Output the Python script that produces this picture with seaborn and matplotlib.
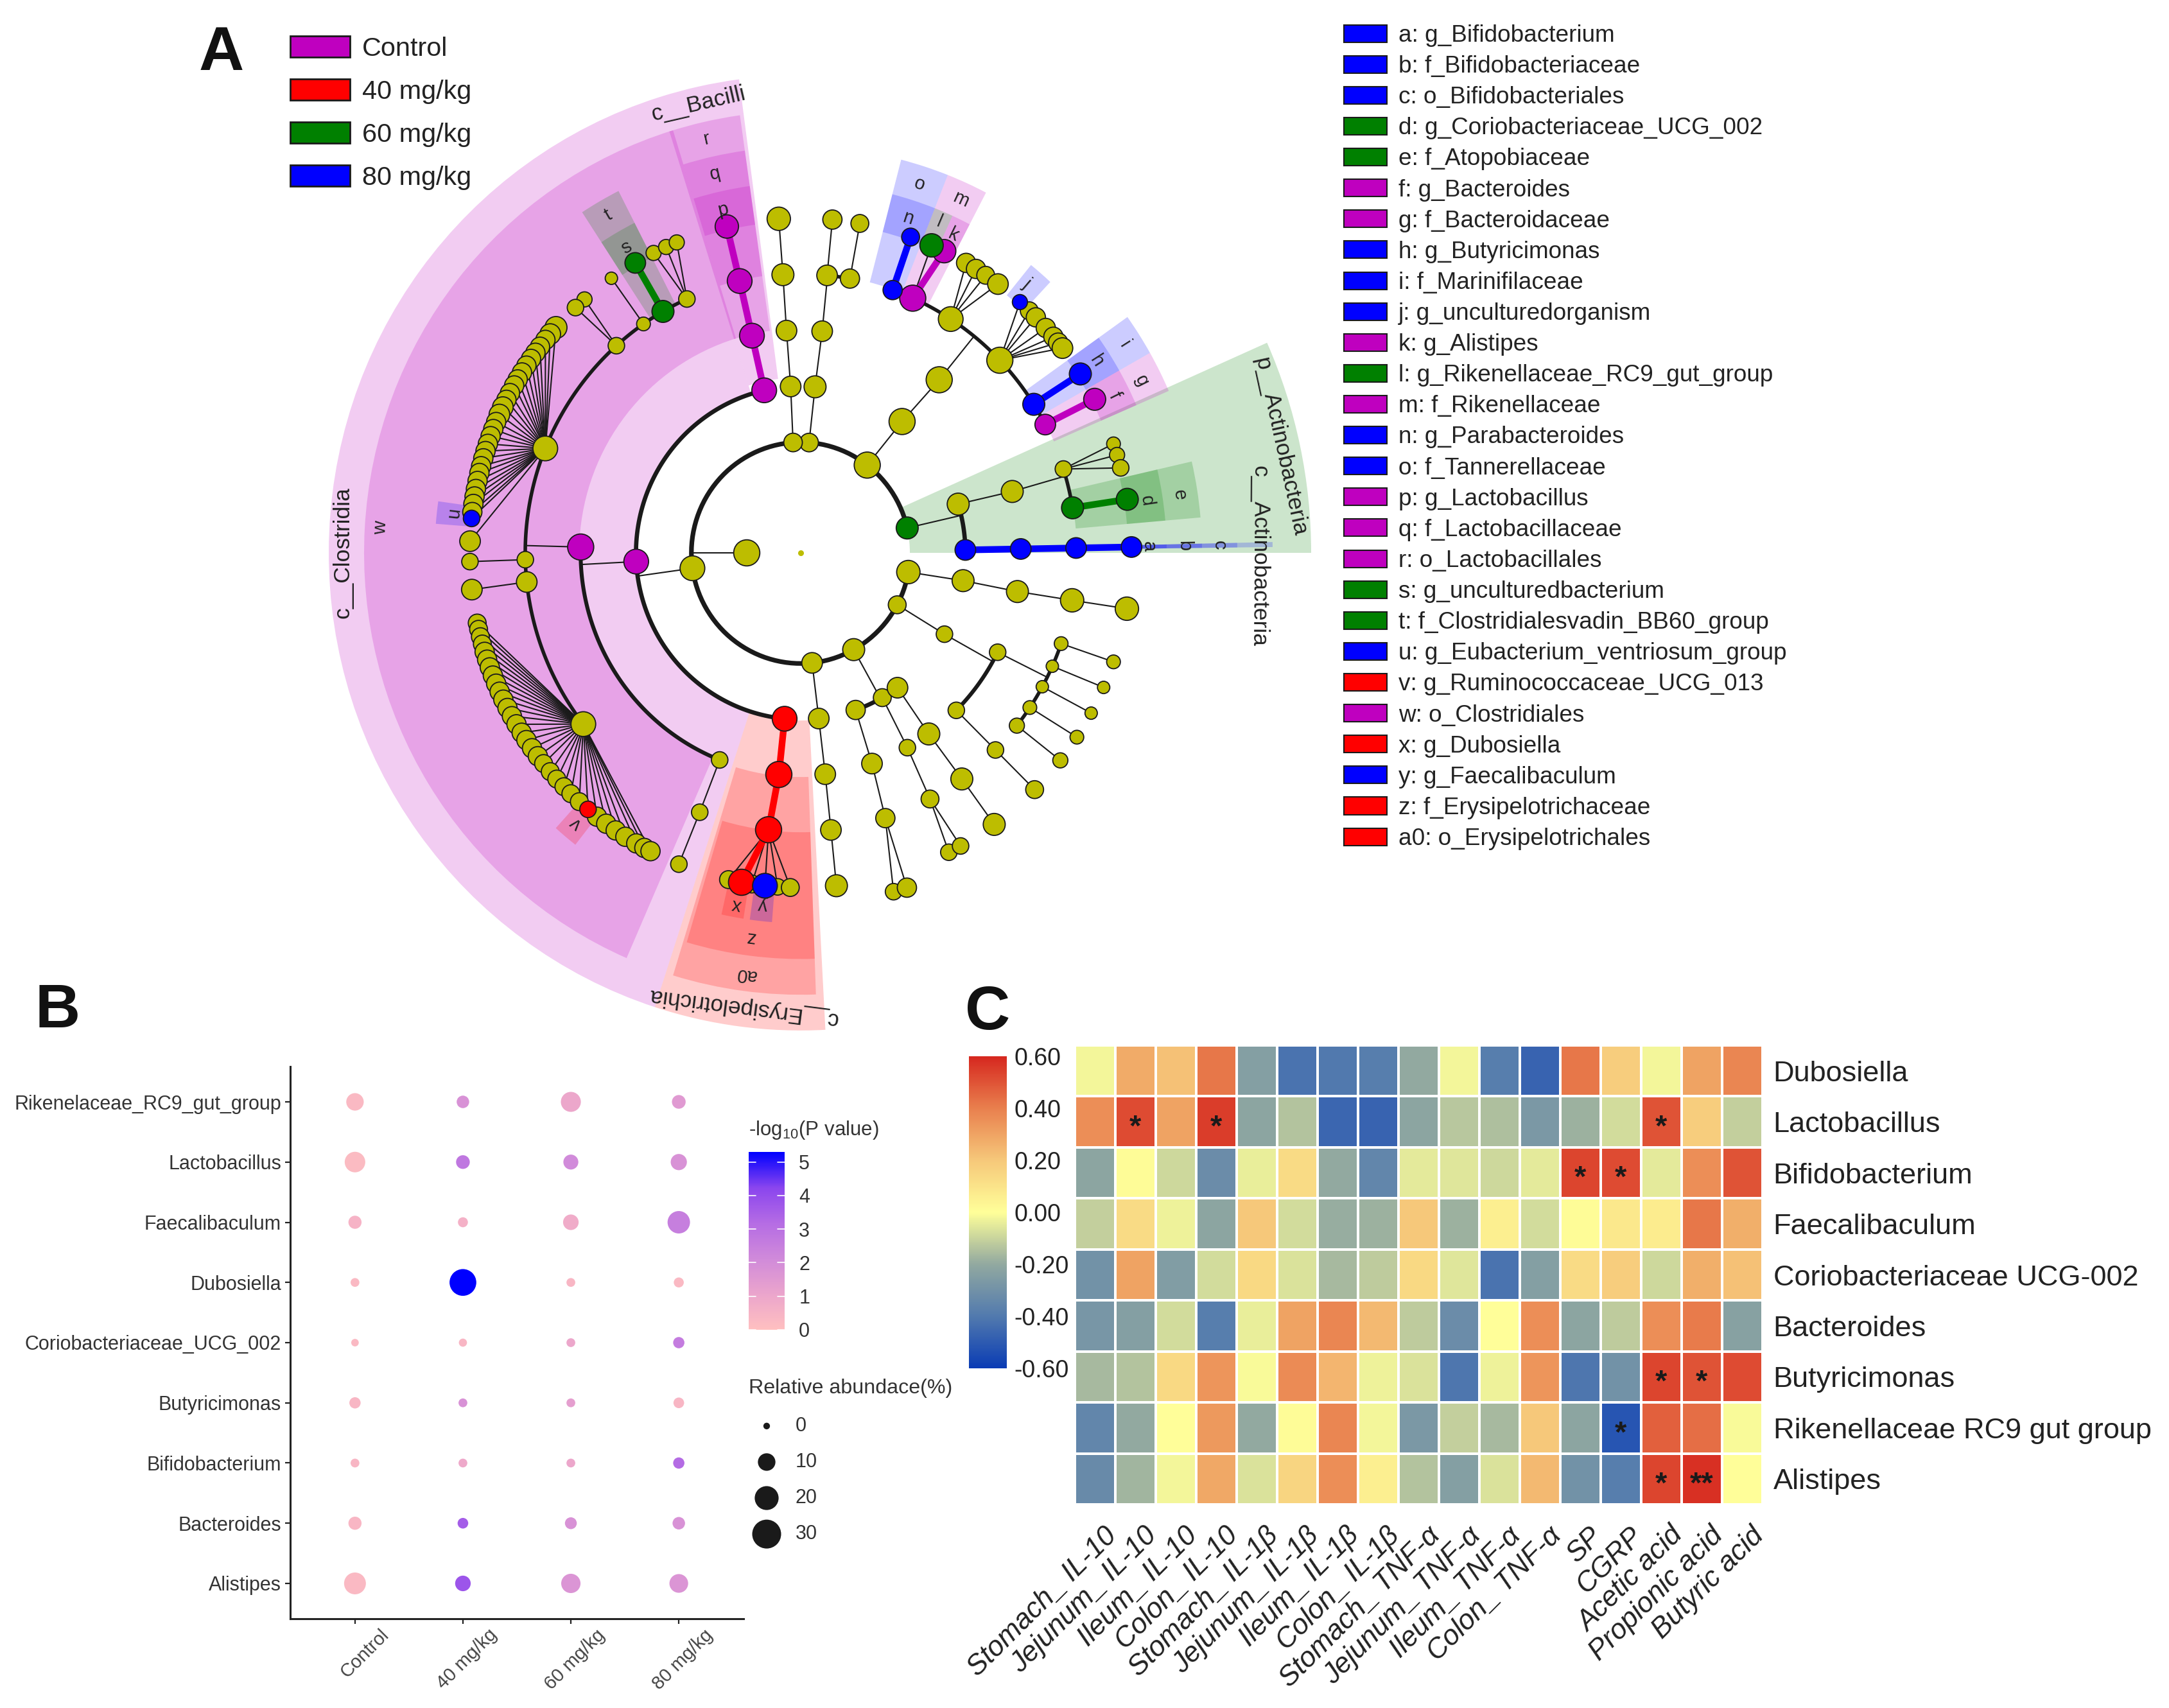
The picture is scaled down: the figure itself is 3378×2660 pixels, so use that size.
import numpy as np, pandas as pd
import matplotlib
matplotlib.use("Agg")
import matplotlib.pyplot as plt
import seaborn as sns
from matplotlib.patches import Patch
from matplotlib.cm import ScalarMappable
from matplotlib.colors import LinearSegmentedColormap, Normalize
from matplotlib.transforms import ScaledTranslation

sns.set_theme(style="white")
plt.rcParams['font.family'] = ['Liberation Sans', 'DejaVu Sans']
plt.rcParams['mathtext.fontset'] = 'custom'
plt.rcParams['mathtext.rm'] = 'Liberation Sans'
W, H = 3378, 2660
fig = plt.figure(figsize=(W/100, H/100), dpi=100, facecolor='white')

def rect(x0, y0, x1, y1):
    return [x0/W, 1-y1/H, (x1-x0)/W, (y1-y0)/H]

PAL = {'n': '#BDBD00', 'm': '#BF00BF', 'r': '#FF0000', 'g': '#008000', 'b': '#0000FF'}

# ---------------- Panel A data: (id, parent, level, angle, diameter, group)
root_nodes = [('K', None, 0, 180, 38, 'n')]
ring_nodes = [('A','K',1,13,32,'g'),('B','K',1,52.5,38,'n'),('C','K',1,85.6,27,'n'),('D','K',1,94,27,'n'),
              ('E','K',1,188,36,'n'),('F','K',1,276,30,'n'),('G','K',1,299,32,'n'),('H','K',1,332,26,'n'),('I','K',1,350,34,'n')]
actino_nodes = [('A1','A',2,17,32,'n'),('A2','A',2,1,30,'b'),('A3','A1',3,16,32,'n'),('A4','A3',4,17.5,24,'n'),
                ('A5','A3',4,9.3,32,'g'),('A4a','A4',5,19,20,'n'),('A4b','A4',5,17,22,'n'),('A4c','A4',5,14.7,24,'n'),
                ('A5a','A5',5,9.2,32,'g'),('A6','A2',3,1,30,'b'),('A7','A6',4,1,30,'b'),('A8','A7',5,1,30,'b')]
bacteroid_nodes = [('B1','B',2,52,38,'n'),('B2','B1',3,51,38,'n'),('B3','B2',4,27.4,30,'m'),('B4','B2',4,32.2,32,'b'),
                   ('B5','B2',4,43.7,38,'n'),('B6','B2',4,57,36,'n'),('B7','B2',4,66,38,'m'),('B8','B2',4,70.5,28,'b'),
                   ('B3a','B3',5,27.3,32,'m'),('B4a','B4',5,32.3,32,'b'),('B5a','B5',5,48.5,22,'b'),('B5b','B5',5,46.3,26,'n'),
                   ('B5c','B5',5,44.7,28,'n'),('B5d','B5',5,42.2,28,'n'),('B5e','B5',5,40.2,28,'n'),('B5f','B5',5,38.9,28,'n'),
                   ('B5g','B5',5,37.7,30,'n'),('B6a','B6',5,60,28,'n'),('B6b','B6',5,58,28,'n'),('B6c','B6',5,56,26,'n'),
                   ('B6d','B6',5,53.4,30,'n'),('B7a','B7',5,64.3,34,'m'),('B7b','B7',5,66.7,34,'g'),('B8a','B8',5,70.6,26,'b')]
c_nodes = [('C1','C',2,85,32,'n'),('C2','C1',3,84.4,30,'n'),('C3','C2',4,84.5,30,'n'),('C4','C2',4,79.7,28,'n'),
           ('C3a','C3',5,84.5,28,'n'),('C4a','C4',5,79.7,26,'n'),
           ('D1','D',2,93.5,30,'n'),('D2','D1',3,93.7,30,'n'),('D3','D2',4,93.7,32,'n'),('D4','D3',5,93.8,34,'n')]
bacilli_nodes = [('E2','E',2,102.8,36,'m'),('E2a','E2',3,102.8,36,'m'),('E2b','E2a',4,102.8,36,'m'),('E2c','E2b',5,102.9,34,'m')]
erysip_nodes = [('E3','E',2,264.4,36,'r'),('E3a','E3',3,264.3,38,'r'),('E3b','E3a',4,263.3,38,'r'),
                ('X1','E3b',5,257.4,26,'n'),('X3','E3b',5,261.5,26,'n'),('X5','E3b',5,266,24,'n'),('X6','E3b',5,268.2,26,'n'),
                ('X2','E3b',5,259.7,38,'r'),('X4','E3b',5,263.8,36,'b')]
clostridia_nodes = [('E1','E',2,183,36,'m'),('E4','E1',3,178.5,38,'m'),('E5','E1',3,248.4,24,'n'),
                    ('E5a','E5',4,248.5,24,'n'),('E5b','E5a',5,248.4,24,'n'),
                    ('F1','E4',4,120,32,'g'),('F2','E4',4,124.8,20,'n'),('F3','E4',4,132,24,'n'),('F4','E4',4,158,36,'n'),
                    ('F5','E4',4,181.4,24,'n'),('F6','E4',4,186,30,'n'),('F7','E4',4,217.9,36,'n'),('F8','E4',4,114.4,24,'n'),
                    ('F1a','F1',5,120,30,'g'),('F2a','F2',5,124.9,18,'n'),('F3a','F3',5,130.8,22,'n'),('F3b','F3',5,132.9,24,'n'),
                    ('F8a','F8',5,116.4,22,'n'),('F8b','F8',5,114,22,'n'),('F8c','F8',5,112,22,'n'),
                    ('F5a','F5',5,181.5,24,'n'),('F6a','F6',5,186.3,30,'n')]
right_nodes = [('F0','F',2,276.3,30,'n'),('F0a','F0',3,276.4,30,'n'),('F0b','F0a',4,276.3,30,'n'),('F0c','F0b',5,276.2,32,'n'),
               ('G1','G',2,289.5,28,'n'),('G2','G',2,299.7,26,'n'),('G3','G',2,306,30,'n'),
               ('G1a','G1',3,288.9,30,'n'),('G1b','G1a',4,287.9,28,'n'),('G1c','G1b',5.3,285.5,24,'n'),('G1d','G1b',5.3,287.8,28,'n'),
               ('G2a','G2',3,299,24,'n'),('G2b','G2a',4,298,26,'n'),('G2c','G2b',5,296.6,24,'n'),('G2d','G2b',5,298.9,24,'n'),
               ('G3a','G3',3,305.6,32,'n'),('G3b','G3a',4,305.8,32,'n'),('G3c','G3b',5,305.8,32,'n'),
               ('H1','H',2,330.8,24,'n'),('H2','H1',3,333.5,24,'n'),('H3','H1',3,315,24,'n'),('H3a','H3',4,315,24,'n'),('H3b','H3a',5,315,26,'n'),
               ('H4','H2',4,341,20,'n'),('H5','H2',4,336,18,'n'),('H6','H2',4,331.3,18,'n'),('H7','H2',4,326.3,20,'n'),('H8','H2',4,321.7,22,'n'),
               ('H4a','H4',5,341,20,'n'),('H5a','H5',5,336.3,18,'n'),('H6a','H6',5,331.4,18,'n'),('H7a','H7',5,326.6,20,'n'),('H8a','H8',5,321.7,22,'n'),
               ('I1','I',2,350.4,32,'n'),('I2','I1',3,350,32,'n'),('I3','I2',4,350.2,34,'n'),('I4','I3',5,350.4,34,'n')]
fan_a_theta = [137.7,139.2,140.5,142,143.3,144.6,146,147.4,148.8,150,151.5,152.8,154.2,155.6,157,158.3,159.6,161,162.3,163.6,165,166.2,167.6,169,170.3,171.6,173,178]
fan_a_diam = [32,30,28,28,28,28,28,28,28,28,28,28,30,30,28,28,28,28,28,28,28,28,28,28,28,28,28,30]
fan_a_marker = [('Fu', 'F4', 5, 174.1, 24, 'b')]
fan_b_theta = [192.1,193.2,194.5,195.8,197.2,198.6,200,201.5,203,204.5,206,207.6,209.2,210.8,212.5,214,215.7,217.4,219,220.8,222.5,224.3,226,228,232,234,236,238,240.2,241.8,243]
fan_b_diam = [26,26,26,26,28,28,28,28,28,28,28,28,28,28,28,28,28,28,26,26,26,26,26,26,28,28,28,28,28,28,28]
fan_b_marker = [('Fv', 'F7', 5, 230, 24, 'r')]

# wedges: (angle start, angle end, r start, r end, group)
class_wedges = [(107.5,252,258,735,'m'),(97.5,107.5,270,735,'m'),(252,273,258,735,'r'),(0,24,170,795,'g'),(0.7,1.3,258,735,'b')]
order_wedges = [(107,246.5,345,680,'m'),(98,107.5,345,680,'m'),(253,272,345,680,'r'),(0.7,1.3,345,680,'b')]
family_wedges = [(98,107,430,625,'m'),(253.5,272,430,625,'r'),(5,13,430,625,'g'),(0.7,1.3,430,625,'b'),
                 (23.5,29.5,430,625,'m'),(29.5,35.5,430,625,'b'),(62.5,68.5,430,625,'m'),(68.5,75.5,430,625,'b'),(117,123,430,625,'g')]
genus_wedges = [(98,107,510,570,'m'),(257.5,261,510,570,'r'),(262,265.5,510,570,'b'),(5,13,510,570,'g'),(0.7,1.3,510,570,'b'),
                (23.5,29.5,510,570,'m'),(29.5,35.5,510,570,'b'),(62.5,65.5,510,570,'m'),(65.5,68.5,510,570,'g'),(68.5,75.5,510,570,'b'),
                (47,51,510,570,'b'),(117,123,510,570,'g'),(172,175.5,510,570,'b'),(228,232,510,570,'r')]
# letter labels: (text, angle, radius)
letter_labels = [('a',1,542),('b',1,597),('c',1,652),('d',8.5,545),('e',8.6,597),('f',26.4,545),('g',26.5,593),('h',32.6,547),('i',32.4,598),
                 ('j',49.7,544),('k',64,544),('l',67,553),('m',65.4,598),('n',72,541),('o',72,597),('p',102.9,542),('q',102.9,599),('r',102.9,654),
                 ('s',120,543),('t',120,600),('u',173.5,543),('v',230,544),('w',176.6,655),('x',259.5,551),('y',263.8,545),('z',262.5,597),('a0',262.5,655)]
class_labels = [('c__Bacilli',103,709),('c__Clostridia',180,713),('c__Erysipelotrichia',262.7,705),('p__Actinobacteria',12.3,765),('c__Actinobacteria',-0.4,714)]

legend_names = ['Control', '40 mg/kg', '60 mg/kg', '80 mg/kg']
legend_groups = ['m', 'r', 'g', 'b']
key_labels = ['a: g_Bifidobacterium','b: f_Bifidobacteriaceae','c: o_Bifidobacteriales','d: g_Coriobacteriaceae_UCG_002','e: f_Atopobiaceae',
              'f: g_Bacteroides','g: f_Bacteroidaceae','h: g_Butyricimonas','i: f_Marinifilaceae','j: g_unculturedorganism','k: g_Alistipes',
              'l: g_Rikenellaceae_RC9_gut_group','m: f_Rikenellaceae','n: g_Parabacteroides','o: f_Tannerellaceae','p: g_Lactobacillus',
              'q: f_Lactobacillaceae','r: o_Lactobacillales','s: g_unculturedbacterium','t: f_Clostridialesvadin_BB60_group',
              'u: g_Eubacterium_ventriosum_group','v: g_Ruminococcaceae_UCG_013','w: o_Clostridiales','x: g_Dubosiella','y: g_Faecalibaculum',
              'z: f_Erysipelotrichaceae','a0: o_Erysipelotrichales']
key_groups = list('bbbggmmbbbmgmbbmmmggbrmrbrr')

# ---------------- Panel A drawing
CX, CY, RMAX, STRETCH = 1247, 861, 820, 1.012
pax = fig.add_axes(rect(CX-RMAX, CY-RMAX*STRETCH, CX+RMAX, CY+RMAX*STRETCH), projection='polar')
pax.set_aspect('auto')
pax.patch.set_alpha(0)
pax.set_ylim(0, RMAX)

fan_nodes = [(f'Fa{i}', 'F4', 5, t, d, 'n') for i, (t, d) in enumerate(zip(fan_a_theta, fan_a_diam))] + fan_a_marker + \
            [(f'Fb{i}', 'F7', 5, t, d, 'n') for i, (t, d) in enumerate(zip(fan_b_theta, fan_b_diam))] + fan_b_marker
all_nodes = root_nodes + ring_nodes + actino_nodes + bacteroid_nodes + c_nodes + bacilli_nodes + erysip_nodes + clostridia_nodes + right_nodes + fan_nodes
nodes = pd.DataFrame(all_nodes, columns=['id', 'parent', 'level', 'angle', 'diam', 'grp'])
nodes['r'] = 84 + 86.25*nodes['level']
nodes['th'] = np.deg2rad(nodes['angle'])
nodes['s'] = (nodes['diam']*1.07*0.72)**2
lookup = nodes.set_index('id')

for a0, a1, r0, r1, g in class_wedges + order_wedges + family_wedges + genus_wedges:
    pax.bar(np.deg2rad((a0+a1)/2), r1-r0, width=np.deg2rad(a1-a0), bottom=r0, color=PAL[g], alpha=0.2, linewidth=0, zorder=1)

def arc(t0, t1, r, lw, col='k'):
    t = np.linspace(t0, t1, 120)
    pax.plot(t, np.full_like(t, r), color=col, lw=lw, solid_capstyle='round', zorder=3)

ARC_W = {1: 5.2, 2: 4.8, 3: 4.4, 4: 4.0}
THIN, FAT = 1.5, 7.5
for pid, kids in nodes.dropna(subset=['parent']).groupby('parent', sort=False):
    p = lookup.loc[pid]
    tips = kids['level'].min() >= 5
    if len(kids) == 1 or tips:
        for _, c in kids.iterrows():
            same = p['grp'] != 'n' and p['grp'] == c['grp']
            pax.plot([p['th'], c['th']], [p['r'], c['r']], color=PAL[c['grp']] if same else 'k',
                     lw=FAT if same else THIN, zorder=3.5 if same else 3)
    else:
        rk = kids['r'].iloc[0]
        pax.plot([p['th'], p['th']], [p['r'], rk], color='k', lw=THIN, zorder=3)
        arc(kids['th'].min(), kids['th'].max(), rk, ARC_W[int(kids['level'].iloc[0])])

order_rank = nodes['grp'].map({'n': 0, 'm': 1, 'g': 2, 'b': 2, 'r': 2})
ndf = nodes.assign(rank=order_rank).sort_values('rank', kind='stable')
sns.scatterplot(data=ndf, x='th', y='r', hue='grp', palette=PAL, size='s',
                sizes=(ndf['s'].min(), ndf['s'].max()), size_norm=(ndf['s'].min(), ndf['s'].max()),
                edgecolor='k', linewidth=1.3, legend=False, ax=pax, zorder=5, clip_on=False)
pax.scatter([0], [0], s=30, color=PAL['n'], zorder=5)

for txt, a, r in letter_labels:
    pax.text(np.deg2rad(a), r, txt, rotation=a-90, rotation_mode='anchor', ha='center', va='center', fontsize=21, color='#222222', zorder=6)
for txt, a, r in class_labels:
    pax.text(np.deg2rad(a), r, txt, rotation=a-90, rotation_mode='anchor', ha='center', va='center', fontsize=25.5, color='#222222', zorder=6)
pax.set_ylim(0, RMAX)
pax.set_axis_off()

fig.legend([Patch(facecolor=PAL[g], edgecolor='k', linewidth=2) for g in legend_groups], legend_names,
           loc='upper left', bbox_to_anchor=(452/W, 1-56/H), frameon=False, fontsize=29.8, handlelength=2.25, handleheight=0.85,
           labelspacing=0.68, handletextpad=0.45, borderpad=0, borderaxespad=0, labelcolor='#222222')
fig.legend([Patch(facecolor=PAL[g], edgecolor='k', linewidth=1.5) for g in key_groups], key_labels,
           loc='upper left', bbox_to_anchor=(2093/W, 1-38/H), frameon=False, fontsize=26.6, handlelength=1.82, handleheight=0.75,
           labelspacing=0.355, handletextpad=0.48, borderpad=0, borderaxespad=0, labelcolor='#222222')

# ---------------- Panel B
taxa_b = ['Rikenelaceae_RC9_gut_group','Lactobacillus','Faecalibaculum','Dubosiella','Coriobacteriaceae_UCG_002','Butyricimonas','Bifidobacterium','Bacteroides','Alistipes']
groups_b = ['Control','40 mg/kg','60 mg/kg','80 mg/kg']
abundance = [[11.8,5.2,16,6.6],[17,6.6,8.2,9.9],[5.9,2.7,9,20.6],[1.7,39.7,1.7,2.7],[0.8,1.2,1.7,3.9],[3.9,1.7,1.7,3.3],[1.7,1.7,1.7,3.9],[5.9,3.3,4.5,5.2],[19.4,9,14.8,13.8]]
logp = [[0.3,1.8,1.0,1.5],[0.2,2.8,2.1,1.8],[0.5,0.6,0.8,2.5],[0.3,5.3,0.4,0.3],[0.3,0.4,1.0,2.6],[0.4,1.8,1.3,0.4],[0.4,0.9,1.0,3.2],[0.4,3.6,1.8,1.8],[0.3,3.8,1.7,1.7]]
size_levels = [0, 10, 20, 30]
logp_ticks = [0, 1, 2, 3, 4, 5]

bcmap = LinearSegmentedColormap.from_list('pb', ['#FFC0C0', '#EBA5CC', '#D08ADA', '#B56CE4', '#8A45EE', '#0000FF'])
bax = fig.add_axes(rect(452, 1661, 1158, 2521))
long = pd.DataFrame([(t, g, abundance[i][j], logp[i][j]) for i, t in enumerate(taxa_b) for j, g in enumerate(groups_b)],
                    columns=['taxon', 'group', 'abund', 'logp'])
SZ = (49, 900)
sns.scatterplot(data=long, x='group', y='taxon', hue='logp', hue_norm=(0, 5.3), palette=bcmap, size='abund', sizes=SZ, size_norm=(0, 30),
                linewidth=0, legend=False, ax=bax)
bax.set_xlim(-0.6, 3.6)
bax.set_ylim(8.587, -0.587)
bax.set_xlabel(''); bax.set_ylabel('')
sns.despine(ax=bax)
for s in ('left', 'bottom'):
    bax.spines[s].set_linewidth(2.2); bax.spines[s].set_color('#222222')
bax.tick_params(axis='both', which='both', length=6, width=1.6, color='#222222', left=True, bottom=True)
bax.tick_params(axis='y', labelsize=22, labelcolor='#333333', pad=4)
bax.tick_params(axis='x', labelsize=21, labelcolor='#444444', pad=6)
plt.setp(bax.get_xticklabels(), rotation=45, ha='right', rotation_mode='anchor')
for lab in bax.get_xticklabels():
    lab.set_transform(lab.get_transform() + ScaledTranslation(28/72, 4/72, fig.dpi_scale_trans))

cbx = fig.add_axes(rect(1166, 1794, 1222, 2071))
cb = fig.colorbar(ScalarMappable(Normalize(0, 5.3), bcmap), cax=cbx, ticks=logp_ticks)
cb.outline.set_visible(False)
cbx.tick_params(length=0, labelsize=22, labelcolor='#333333', pad=16)
for t in logp_ticks:
    cbx.plot([0, 0.2], [t, t], color='white', lw=1.2)
    cbx.plot([0.8, 1], [t, t], color='white', lw=1.2)
fig.text(1166/W, 1-1760/H, r'-log$_{\mathrm{10}}$(P value)', fontsize=22.5, color='#333333', va='center', ha='left')
fig.text(1166/W, 1-2162/H, 'Relative abundace(%)', fontsize=23.2, color='#333333', va='center', ha='left')

slx = fig.add_axes(rect(1166, 2190, 1222, 2420))
slx.set_axis_off()
sns.scatterplot(x=[0]*4, y=size_levels, size=size_levels, sizes=(55, 1050), size_norm=(0, 30), color='k', linewidth=0, legend=False, ax=slx, clip_on=False)
slx.set_ylim(size_levels[-1]+5.5, size_levels[0]-5.5)
slx.set_xlim(-0.5, 0.5)
for v in size_levels:
    slx.annotate(str(v), (0, v), xytext=(32, 0), textcoords='offset points', fontsize=22, color='#333333', va='center', ha='left')

# ---------------- Panel C
rows_c = ['Dubosiella','Lactobacillus','Bifidobacterium','Faecalibaculum','Coriobacteriaceae UCG-002','Bacteroides','Butyricimonas','Rikenellaceae RC9 gut group','Alistipes']
cols_c = ['Stomach_ IL-10','Jejunum_ IL-10','Ileum_ IL-10','Colon_ IL-10','Stomach_ IL-1β','Jejunum_ IL-1β','Ileum_ IL-1β','Colon_ IL-1β',
          'Stomach_ TNF-α','Jejunum_ TNF-α','Ileum_ TNF-α','Colon_ TNF-α','SP','CGRP','Acetic acid','Propionic acid','Butyric acid']
dubosiella = [-0.02,0.28,0.22,0.42,-0.24,-0.42,-0.40,-0.38,-0.20,-0.02,-0.38,-0.47,0.42,0.18,-0.02,0.30,0.38]
lactobacillus = [0.36,0.52,0.30,0.55,-0.22,-0.14,-0.46,-0.47,-0.22,-0.13,-0.15,-0.27,-0.18,-0.08,0.50,0.18,-0.11]
bifidobacterium = [-0.22,0.01,-0.09,-0.32,-0.04,0.13,-0.20,-0.35,-0.05,-0.06,-0.09,-0.05,0.53,0.52,-0.05,0.36,0.50]
faecalibaculum = [-0.11,0.13,-0.03,-0.22,0.20,-0.08,-0.19,-0.18,0.20,-0.18,0.06,-0.08,0.01,0.08,0.07,0.42,0.27]
coriobacteriaceae = [-0.30,0.30,-0.25,-0.08,0.14,-0.07,-0.16,-0.12,0.14,-0.06,-0.42,-0.24,0.13,0.18,-0.09,0.27,0.22]
bacteroides = [-0.28,-0.24,-0.08,-0.38,-0.04,0.30,0.38,0.24,-0.12,-0.32,0.0,0.36,-0.22,-0.12,0.36,0.41,-0.23]
butyricimonas = [-0.16,-0.14,0.14,0.34,-0.01,0.37,0.25,-0.03,-0.07,-0.41,-0.03,0.34,-0.41,-0.30,0.53,0.50,0.52]
rikenellaceae = [-0.35,-0.20,0.0,0.33,-0.20,0.01,0.38,-0.02,-0.27,-0.11,-0.16,0.20,-0.22,-0.52,0.47,0.44,-0.01]
alistipes = [-0.33,-0.17,-0.02,0.29,-0.07,0.15,0.36,0.06,-0.14,-0.24,-0.07,0.24,-0.30,-0.38,0.53,0.58,0.0]
star_cells = [(1,1,'*'),(1,3,'*'),(1,14,'*'),(2,12,'*'),(2,13,'*'),(6,14,'*'),(6,15,'*'),(7,13,'*'),(8,14,'*'),(8,15,'**')]
corr_ticks = [-0.6,-0.4,-0.2,0.0,0.2,0.4,0.6]

corr = pd.DataFrame([dubosiella,lactobacillus,bifidobacterium,faecalibaculum,coriobacteriaceae,bacteroides,butyricimonas,rikenellaceae,alistipes],
                    index=rows_c, columns=cols_c)
stars = pd.DataFrame('', index=rows_c, columns=cols_c)
for i, j, st in star_cells:
    stars.iloc[i, j] = st
ccmap = LinearSegmentedColormap.from_list('c', ['#0A3CB4', '#527AAE', '#92A9A0', '#FFFF99', '#F6C87A', '#E9804E', '#D6281F'])
hax = fig.add_axes(rect(1674, 1628, 2745, 2343))
ccx = fig.add_axes(rect(1509, 1645, 1568, 2131))
sns.heatmap(corr, ax=hax, cmap=ccmap, vmin=-0.6, vmax=0.6, linewidths=1.5, linecolor='white', cbar_ax=ccx,
            annot=stars, fmt='', annot_kws={'fontsize': 34, 'color': 'k', 'fontweight': 'bold'})
for t in hax.texts:
    t.set_y(t.get_position()[1] + 0.12)
hax.tick_params(length=0)
hax.yaxis.tick_right()
plt.setp(hax.get_yticklabels(), rotation=0, fontsize=32.5, color='#222222')
hax.tick_params(axis='y', pad=12)
hax.tick_params(axis='x', pad=20)
plt.setp(hax.get_xticklabels(), rotation=45, ha='right', rotation_mode='anchor', fontsize=31.5, color='#222222', fontstyle='italic')
for lab in hax.get_xticklabels():
    lab.set_transform(lab.get_transform() + ScaledTranslation(9/72, 0, fig.dpi_scale_trans))
ccx.set_yticks(corr_ticks, [f'{v:.2f}' for v in corr_ticks])
ccx.tick_params(length=0, labelsize=27, labelcolor='#222222', pad=8)

# ---------------- Panel letters
for txt, x, y in [('A', 345, 84), ('B', 90, 1575), ('C', 1538, 1578)]:
    fig.text(x/W, 1-y/H, txt, fontsize=70, fontweight='bold', color='#111111', ha='center', va='center')

fig.savefig('out.png', dpi=100, facecolor='white')
